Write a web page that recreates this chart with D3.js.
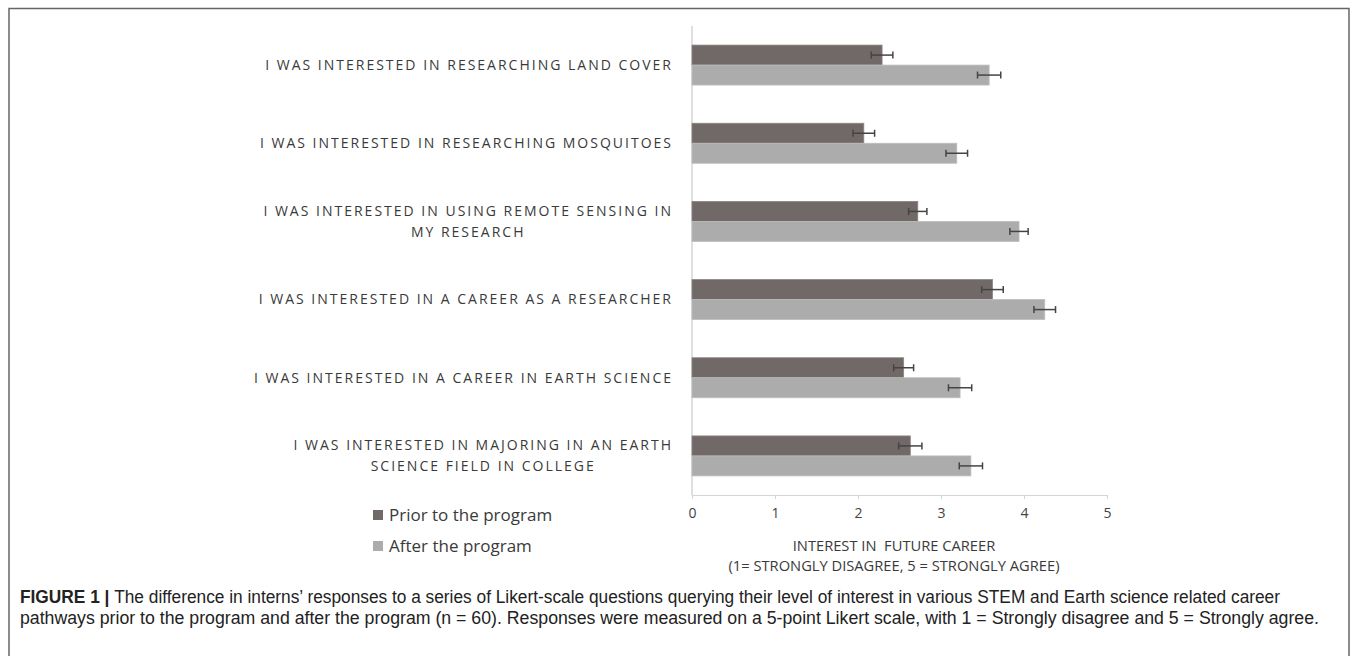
<!DOCTYPE html>
<html>
<head>
<meta charset="utf-8">
<script src="https://cdn.jsdelivr.net/npm/d3@7"></script>
<style>
  body { margin: 0; background: #fff; }
  svg { display: block; }
</style>
</head>
<body>
<svg width="1357" height="656"></svg>
<script>
// questions, top to bottom
const questions = [
  ["I WAS INTERESTED IN RESEARCHING LAND COVER"],
  ["I WAS INTERESTED IN RESEARCHING MOSQUITOES"],
  ["I WAS INTERESTED IN USING REMOTE SENSING IN", "MY RESEARCH"],
  ["I WAS INTERESTED IN A CAREER AS A RESEARCHER"],
  ["I WAS INTERESTED IN A CAREER IN EARTH SCIENCE"],
  ["I WAS INTERESTED IN MAJORING IN AN EARTH", "SCIENCE FIELD IN COLLEGE"]
];
const seriesNames = ["Prior to the program", "After the program"];
const priorMean = [2.29, 2.07, 2.72, 3.62, 2.55, 2.63];
const priorErr  = [0.13, 0.13, 0.11, 0.13, 0.12, 0.14];
const afterMean = [3.58, 3.19, 3.94, 4.25, 3.23, 3.36];
const afterErr  = [0.14, 0.13, 0.11, 0.13, 0.14, 0.14];
const xTicks = [0, 1, 2, 3, 4, 5];
const xTitle = ["INTEREST IN  FUTURE CAREER", "(1= STRONGLY DISAGREE, 5 = STRONGLY AGREE)"];
const caption = [
  "The difference in interns\u2019 responses to a series of Likert-scale questions querying their level of interest in various STEM and Earth science related career",
  "pathways prior to the program and after the program (n = 60). Responses were measured on a 5-point Likert scale, with 1 = Strongly disagree and 5 = Strongly agree."
];

const colors = ["#716968", "#acacac"];

const svg = d3.select("svg");

// frame around figure
svg.append("rect")
  .attr("x", 9).attr("y", 8.5)
  .attr("width", 1340).attr("height", 700)
  .attr("fill", "none")
  .attr("stroke", "#666").attr("stroke-width", 1.5);

const x = d3.scaleLinear().domain([0, 5]).range([692, 1107]);
const y0 = d3.scaleBand().domain(d3.range(questions.length)).range([26, 495]);
const y1 = d3.scaleBand().domain([0, 1]).range([0, y0.bandwidth()]).paddingOuter(0.955).paddingInner(0);

const rows = questions.map((q, i) => ({
  i,
  vals: [
    {s: 0, v: priorMean[i], e: priorErr[i]},
    {s: 1, v: afterMean[i], e: afterErr[i]}
  ]
}));

// x axis
const xAxis = svg.append("g")
  .attr("transform", "translate(0,495)")
  .call(d3.axisBottom(x).tickValues(xTicks).tickSize(4).tickPadding(9).tickFormat(d3.format("d")));
xAxis.select(".domain").attr("stroke", "#d4d4d4");
xAxis.selectAll(".tick line").attr("stroke", "#d4d4d4");
xAxis.selectAll(".tick text")
  .attr("fill", "#444")
  .style("font-family", "'Open Sans', sans-serif")
  .style("font-size", "14px");

// y axis line
svg.append("line")
  .attr("x1", x(0)).attr("x2", x(0))
  .attr("y1", 26).attr("y2", 495)
  .attr("stroke", "#d4d4d4").attr("stroke-width", 1.5);

// bars
const groups = svg.selectAll("g.grp")
  .data(rows)
  .join("g")
  .attr("class", "grp")
  .attr("transform", d => `translate(0,${y0(d.i)})`);

groups.selectAll("rect")
  .data(d => d.vals)
  .join("rect")
  .attr("x", x(0))
  .attr("y", d => y1(d.s))
  .attr("width", d => x(d.v) - x(0))
  .attr("height", y1.bandwidth())
  .attr("fill", d => colors[d.s])
  .attr("stroke", d => d.s === 0 ? "#8a8382" : "#bdbdbd")
  .attr("stroke-width", 0.8);

// error bars
const eb = groups.selectAll("g.err")
  .data(d => d.vals)
  .join("g")
  .attr("class", "err")
  .attr("stroke", "#444")
  .attr("stroke-width", 1.5);
eb.append("line")
  .attr("x1", d => x(d.v - d.e)).attr("x2", d => x(d.v + d.e))
  .attr("y1", d => y1(d.s) + y1.bandwidth() / 2)
  .attr("y2", d => y1(d.s) + y1.bandwidth() / 2);
eb.selectAll("line.cap")
  .data(d => [d.v - d.e, d.v + d.e].map(p => ({p, s: d.s})))
  .join("line")
  .attr("class", "cap")
  .attr("x1", d => x(d.p)).attr("x2", d => x(d.p))
  .attr("y1", d => y1(d.s) + y1.bandwidth() / 2 - 3.5)
  .attr("y2", d => y1(d.s) + y1.bandwidth() / 2 + 3.5);

// category labels
const labels = svg.selectAll("text.cat")
  .data(questions)
  .join("text")
  .attr("class", "cat")
  .attr("text-anchor", "middle")
  .attr("fill", "#3a3a3a")
  .style("font-family", "'Open Sans', sans-serif")
  .style("font-size", "14px")
  .style("letter-spacing", "2px")
  .attr("transform", (d, i) => `translate(0,${y0(i) + y0.bandwidth() / 2})`);
labels.each(function(lines) {
  const t = d3.select(this);
  lines.forEach((ln, k) => {
    t.append("tspan")
      .attr("x", 0)
      .attr("y", (k - (lines.length - 1) / 2) * 21)
      .attr("dy", "0.35em")
      .text(ln);
  });
});
// right-align first line at x=673, center wrapped lines under it
labels.each(function() {
  const t = d3.select(this);
  const w0 = t.select("tspan").node().getComputedTextLength();
  t.selectAll("tspan").attr("x", 673 - w0 / 2);
});

// legend
const legend = svg.append("g").attr("transform", "translate(373,0)");
seriesNames.forEach((name, i) => {
  const cy = [515, 546][i];
  legend.append("rect")
    .attr("x", 0).attr("y", cy - 5)
    .attr("width", 10).attr("height", 10)
    .attr("fill", colors[i]);
  legend.append("text")
    .attr("x", 16).attr("y", cy)
    .attr("dy", "0.35em")
    .attr("fill", "#3a3a3a")
    .style("font-family", "'Open Sans', sans-serif")
    .style("font-size", "17px")
    .text(name);
});

// x axis title
svg.selectAll("text.xt")
  .data(xTitle)
  .join("text")
  .attr("class", "xt")
  .attr("x", 894)
  .attr("y", (d, i) => 546 + i * 20)
  .attr("dy", "0.35em")
  .attr("text-anchor", "middle")
  .attr("fill", "#3a3a3a")
  .style("font-family", "'Open Sans', sans-serif")
  .style("font-size", "14.7px")
  .style("white-space", "pre")
  .text(d => d);

// caption
const cap = svg.append("g")
  .style("font-family", "'Liberation Sans', Arial, sans-serif")
  .style("font-size", "17.5px")
  .attr("fill", "#222");
const c1 = cap.append("text").attr("x", 20).attr("y", 603)
  .attr("textLength", 1260).attr("lengthAdjust", "spacingAndGlyphs");
c1.append("tspan").style("font-weight", "bold").text("FIGURE 1 | ");
c1.append("tspan").text(caption[0]);
cap.append("text").attr("x", 20).attr("y", 624)
  .attr("textLength", 1299).attr("lengthAdjust", "spacingAndGlyphs")
  .text(caption[1]);
</script>
</body>
</html>
